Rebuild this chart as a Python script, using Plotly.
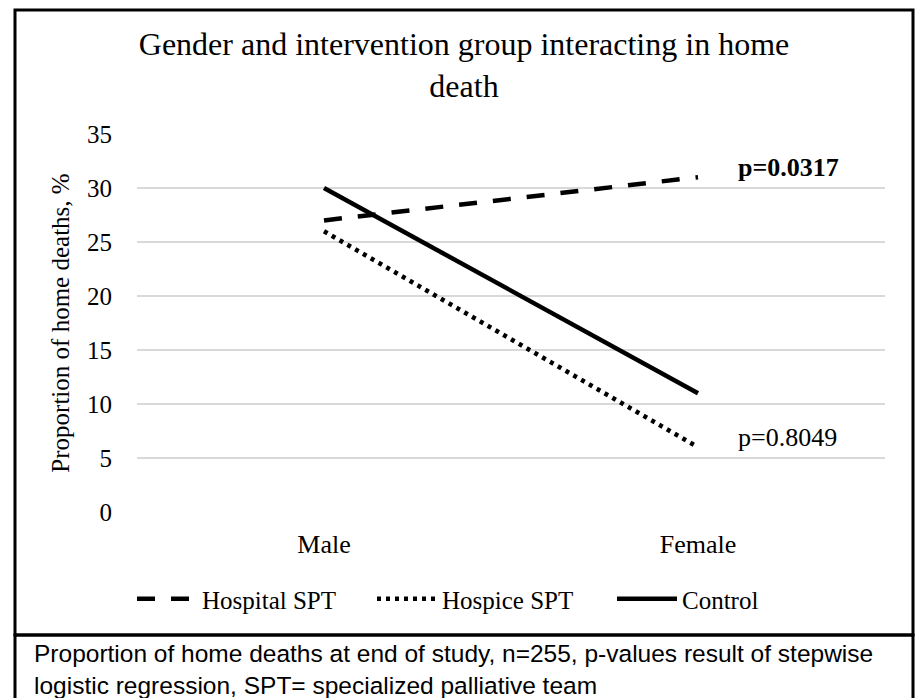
import plotly.graph_objects as go

categories = ["Male", "Female"]
hospital_spt = [27, 31]
hospice_spt = [26, 6]
control = [30, 11]
series_names = ["Hospital SPT", "Hospice SPT", "Control"]
y_ticks = [0, 5, 10, 15, 20, 25, 30, 35]

W, H = 916, 698
def fx(px):
    return px / W
def fy(py):
    return 1 - py / H

serif = "Liberation Serif, Times New Roman, serif"

fig = go.Figure()
fig.add_trace(go.Scatter(x=categories, y=hospital_spt, mode="lines", name=series_names[0],
                         line=dict(color="black", width=4.5, dash="18px,16px")))
fig.add_trace(go.Scatter(x=categories, y=hospice_spt, mode="lines", name=series_names[1],
                         line=dict(color="black", width=4.5, dash="4px,5px")))
fig.add_trace(go.Scatter(x=categories, y=control, mode="lines", name=series_names[2],
                         line=dict(color="black", width=4.5)))

fig.update_layout(
    width=W, height=H,
    margin=dict(l=0, r=0, t=0, b=0, autoexpand=False),
    paper_bgcolor="white", plot_bgcolor="white",
    font=dict(family=serif, size=25, color="black"),
    title=dict(text="Gender and intervention group interacting in home<br>death",
               x=fx(464), xanchor="center", y=fy(55), yanchor="middle",
               font=dict(family=serif, size=32, color="black")),
    xaxis=dict(domain=[fx(137), fx(885)], range=[-0.5, 1.5], type="category",
               showgrid=False, showline=False, ticks="", ticklabelstandoff=14,
               automargin=False, tickfont=dict(family=serif, size=26)),
    yaxis=dict(domain=[fy(512), fy(134)], range=[0, 35], tickvals=y_ticks,
               showgrid=True, gridcolor="#d9d9d9", gridwidth=1.5, zeroline=False,
               showline=False, ticks="", ticklabelstandoff=24, automargin=False,
               tickfont=dict(family=serif, size=25),
               title=dict(text="Proportion of home deaths, %", standoff=10,
                          font=dict(family=serif, size=25))),
    legend=dict(orientation="h", x=fx(492), xanchor="center", y=fy(599), yanchor="middle",
                font=dict(family=serif, size=25), bgcolor="rgba(0,0,0,0)",
                itemwidth=60, entrywidth=165, entrywidthmode="pixels"),
    showlegend=True,
)

fig.add_annotation(text="<b>p=0.0317</b>", x=fx(736), y=fy(168), xref="paper", yref="paper",
                   xanchor="left", yanchor="middle", showarrow=False,
                   font=dict(family=serif, size=26, color="black"))
fig.add_annotation(text="p=0.8049", x=fx(736), y=fy(437), xref="paper", yref="paper",
                   xanchor="left", yanchor="middle", showarrow=False,
                   font=dict(family=serif, size=26, color="black"))

# chart border
fig.add_shape(type="rect", xref="paper", yref="paper", x0=fx(15), x1=fx(913), y0=fy(635), y1=fy(10),
              line=dict(color="black", width=3), fillcolor="rgba(0,0,0,0)", layer="above")
# caption box
fig.add_shape(type="rect", xref="paper", yref="paper", x0=fx(15), x1=fx(913), y0=fy(702), y1=fy(635),
              line=dict(color="black", width=3), fillcolor="rgba(0,0,0,0)", layer="above")
fig.add_annotation(text="Proportion of home deaths at end of study, n=255, p-values result of stepwise<br>logistic regression, SPT= specialized palliative team",
                   x=fx(32), y=fy(669), xref="paper", yref="paper", xanchor="left", yanchor="middle",
                   align="left", showarrow=False,
                   font=dict(family="Liberation Sans, Arial, sans-serif", size=24.5, color="black"))

fig.write_html("out.html", config={"displayModeBar": False},
               post_script="document.body.style.margin='0px';")
